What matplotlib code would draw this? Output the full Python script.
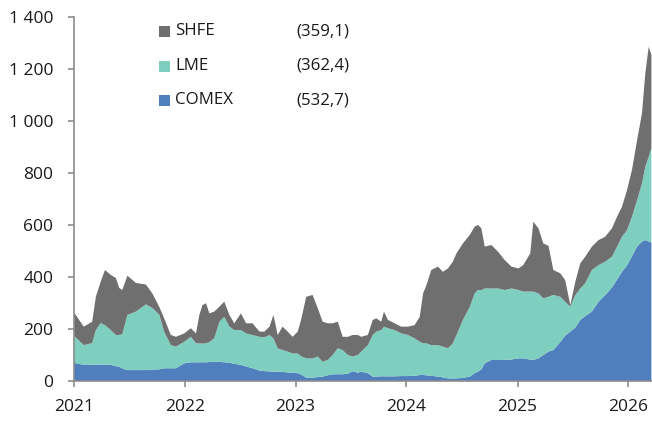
import matplotlib
matplotlib.use("Agg")
import matplotlib.pyplot as plt
import matplotlib.dates as mdates
from matplotlib.patches import Rectangle
from matplotlib.ticker import FuncFormatter, MultipleLocator
import pandas as pd

# Weekly-ish readings of exchange stocks (thousand tonnes)
dates = [
    "2021-01-01", "2021-02-02", "2021-03-02", "2021-03-14", "2021-03-30", "2021-04-13",
    "2021-05-02", "2021-05-19", "2021-05-30", "2021-06-09", "2021-06-26", "2021-07-24",
    "2021-08-26", "2021-09-16", "2021-10-09", "2021-10-25", "2021-11-16", "2021-12-03",
    "2021-12-30", "2022-01-21", "2022-02-07", "2022-02-18", "2022-02-28", "2022-03-12",
    "2022-03-23", "2022-04-08", "2022-04-25", "2022-05-11", "2022-05-28", "2022-06-13",
    "2022-07-05", "2022-07-22", "2022-08-12", "2022-09-04", "2022-09-20", "2022-10-07",
    "2022-10-20", "2022-11-03", "2022-11-19", "2022-12-06", "2022-12-22", "2023-01-08",
    "2023-01-19", "2023-02-05", "2023-02-26", "2023-03-15", "2023-03-31", "2023-04-17",
    "2023-05-03", "2023-05-20", "2023-06-05", "2023-06-22", "2023-07-08", "2023-07-25",
    "2023-08-05", "2023-08-27", "2023-09-12", "2023-09-24", "2023-10-10", "2023-10-19",
    "2023-11-01", "2023-11-23", "2023-12-15", "2024-01-06", "2024-01-28", "2024-02-14",
    "2024-02-25", "2024-03-07", "2024-03-23", "2024-04-14", "2024-04-30", "2024-05-17",
    "2024-06-02", "2024-06-14", "2024-07-05", "2024-07-28", "2024-08-13", "2024-08-24",
    "2024-09-04", "2024-09-15", "2024-10-07", "2024-10-29", "2024-11-20", "2024-12-12",
    "2025-01-04", "2025-01-20", "2025-02-12", "2025-02-22", "2025-03-11", "2025-03-27",
    "2025-04-13", "2025-04-29", "2025-05-22", "2025-06-07", "2025-06-24", "2025-07-10",
    "2025-07-27", "2025-08-12", "2025-09-03", "2025-09-25", "2025-10-17", "2025-11-08",
    "2025-11-25", "2025-12-11", "2025-12-28", "2026-01-13", "2026-01-30", "2026-02-15",
    "2026-02-26", "2026-03-09", "2026-03-18",
]

comex = [
    70, 62, 62, 63, 63, 63, 62, 57, 55, 48, 42, 42,
    42, 44, 45, 49, 49, 49, 68, 72, 72, 72, 72, 72,
    73, 74, 74, 72, 70, 66, 62, 56, 49, 40, 38, 37,
    36, 36, 35, 33, 32, 30, 25, 13, 13, 15, 17, 22,
    26, 26, 26, 28, 38, 32, 36, 30, 17, 17, 18, 18,
    18, 18, 19, 19, 20, 23, 23, 22, 20, 17, 14, 10,
    10, 10, 12, 17, 30, 36, 45, 68, 81, 81, 81, 83,
    87, 87, 82, 81, 87, 100, 113, 119, 150, 175, 190, 205,
    235, 250, 267, 305, 330, 360, 390, 420, 445, 480, 517, 536,
    542, 536, 532.7,
]

lme = [
    104, 76, 84, 133, 160, 152, 134, 120, 122, 132, 212, 225,
    253, 237, 210, 141, 89, 83, 83, 98, 73, 73, 72, 73,
    77, 90, 154, 175, 139, 130, 134, 127, 128, 130, 130, 140,
    128, 90, 84, 80, 74, 76, 70, 74, 74, 79, 57, 59,
    74, 100, 93, 72, 56, 68, 77, 108, 160, 173, 178, 191,
    185, 178, 164, 158, 144, 128, 122, 123, 118, 121, 118, 116,
    135, 167, 223, 269, 307, 314, 305, 288, 275, 275, 269, 273,
    263, 257, 262, 263, 250, 218, 211, 212, 174, 130, 96, 125,
    121, 126, 160, 141, 129, 118, 127, 135, 136, 152, 179, 224,
    282, 326, 362.4,
]

shfe = [
    90, 71, 82, 128, 159, 212, 212, 219, 181, 170, 151, 110,
    76, 56, 30, 51, 39, 38, 32, 33, 38, 109, 148, 154,
    110, 103, 58, 58, 45, 26, 64, 39, 45, 20, 22, 32,
    90, 51, 90, 77, 64, 84, 140, 237, 244, 186, 154, 141,
    122, 102, 51, 70, 83, 77, 57, 39, 58, 51, 32, 58,
    32, 26, 26, 32, 51, 96, 192, 224, 289, 302, 288, 307,
    314, 314, 294, 276, 257, 250, 237, 161, 167, 141, 115, 84,
    83, 102, 147, 269, 250, 211, 196, 96, 90, 83, 6, 50,
    97, 102, 90, 96, 96, 109, 115, 115, 154, 180, 231, 270,
    359, 423, 359.1,
]

names = ["SHFE", "LME", "COMEX"]
last_values = ["(359,1)", "(362,4)", "(532,7)"]
colors = {"COMEX": "#4f80bd", "LME": "#7ecfc0", "SHFE": "#6f6f6f"}

plt.rcParams["font.family"] = ["Open Sans", "DejaVu Sans"]

x = pd.to_datetime(dates)

fig = plt.figure(figsize=(6.52, 4.21), dpi=100)
ax = fig.add_axes([74 / 652, 1 - 381 / 421, 1 - 74 / 652, (381 - 17) / 421])

ax.stackplot(x, comex, lme, shfe,
             colors=[colors["COMEX"], colors["LME"], colors["SHFE"]],
             linewidth=0)

ax.set_xlim(x[0], pd.Timestamp("2026-03-20"))
ax.set_ylim(0, 1400)
ax.yaxis.set_major_locator(MultipleLocator(200))
ax.yaxis.set_major_formatter(FuncFormatter(lambda v, p: f"{int(v):,}".replace(",", " ")))
ax.xaxis.set_major_locator(mdates.YearLocator())
ax.xaxis.set_major_formatter(mdates.DateFormatter("%Y"))

for side in ["top", "right"]:
    ax.spines[side].set_visible(False)
for side in ["left", "bottom"]:
    ax.spines[side].set_color("#8c8c8c")
    ax.spines[side].set_linewidth(1.2)
ax.tick_params(axis="both", colors="#8c8c8c", length=4, width=1.2,
               labelcolor="#1a1a1a", labelsize=12.5)
ax.tick_params(axis="y", pad=11)
ax.tick_params(axis="x", pad=9)

# hand-made legend with the latest values
rows_y = [31, 66, 100.5]
for name, val, ry in zip(names, last_values, rows_y):
    fig.patches.append(Rectangle((159 / 652, 1 - (ry + 5.5) / 421), 11 / 652, 11 / 421,
                                 transform=fig.transFigure, color=colors[name], lw=0))
    fig.text(175 / 652, 1 - ry / 421, name, fontsize=12.2, va="center", ha="left",
             color="#1a1a1a")
    fig.text(296 / 652, 1 - ry / 421, val, fontsize=12.2, va="center", ha="left",
             color="#1a1a1a")

fig.savefig("out.png", dpi=100)
